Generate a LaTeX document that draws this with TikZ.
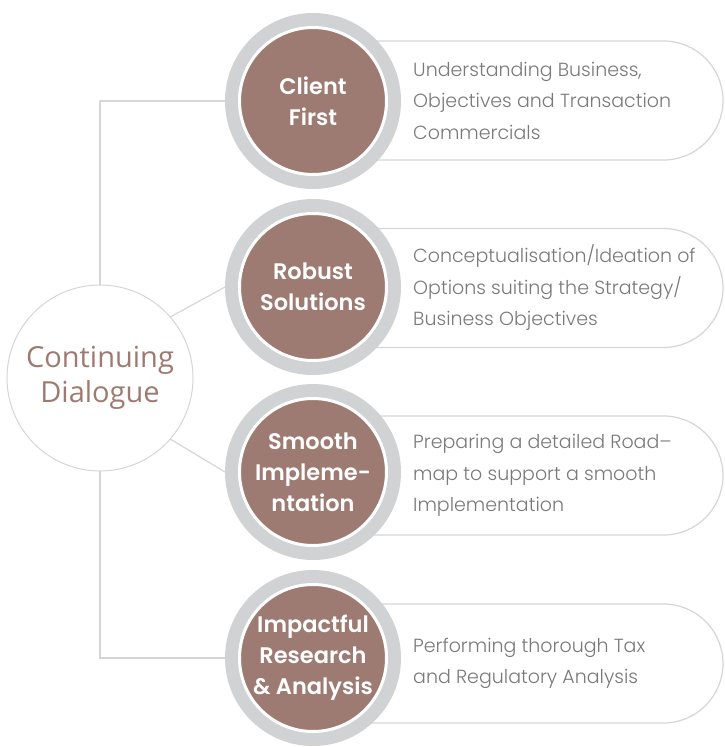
\documentclass[tikz,border=0pt]{standalone}
\usepackage{fontspec}
\setmainfont{Poppins}
\newfontfamily\pillfont{Poppins Light}
\newfontfamily\circfont{Poppins SemiBold}
\newfontfamily\dlgfont{Open Sans}
\definecolor{brownc}{HTML}{9E7B72}
\definecolor{ringgrey}{HTML}{D1D2D4}
\definecolor{linegrey}{HTML}{D6D6D6}
\definecolor{txtgrey}{HTML}{7A7A7A}
\tikzset{
  conn/.style={draw=linegrey, line width=1.2pt},
  ring/.style={circle, fill=ringgrey, minimum size=176pt, inner sep=0pt, outer sep=0pt},
  core/.style={circle, fill=brownc, draw=white, line width=3pt, minimum size=147pt, inner sep=0pt, outer sep=0pt,
    text=white, font=\circfont\fontsize{22.5}{31}\selectfont, align=center},
  pill/.style={rectangle, rounded corners=59.5pt, draw=linegrey, line width=1.2pt, fill=white,
    minimum width=423pt, minimum height=119pt, inner sep=0pt, outer sep=0pt},
  pilltext/.style={anchor=west, text=txtgrey, font=\pillfont\fontsize{19}{31.5}\selectfont, align=left, inner sep=0pt},
  dialogue/.style={circle, draw=linegrey, line width=1pt, fill=white, minimum size=186pt, inner sep=0pt, outer sep=0pt,
    text=brownc, font=\dlgfont\fontsize{29}{35}\selectfont, align=center}
}
\begin{document}
\begin{tikzpicture}[x=1pt, y=-1pt]
\useasboundingbox[fill=white] (0,0) rectangle (725,747);
% central node
\node[dialogue] (cd) at (100,378) {Continuing\\Dialogue};
% ring placeholders (for connector anchors)
\coordinate (r1) at (313,101);
\coordinate (r2) at (313,287);
\coordinate (r3) at (313,472);
\coordinate (r4) at (313,658);
% pills
\node[pill] (p1) at (511.5,100.5) {};
\node[pill] (p2) at (511.5,288) {};
\node[pill] (p3) at (511.5,475.5) {};
\node[pill] (p4) at (511.5,663.5) {};
% rings
\node[ring] (g1) at (r1) {};
\node[ring] (g2) at (r2) {};
\node[ring] (g3) at (r3) {};
\node[ring] (g4) at (r4) {};
% connectors
\draw[conn] (cd.north) |- (g1.west);
\draw[conn] (cd.south) |- (g4.west);
\draw[conn] (cd.41.5) -- (g2.west);
\draw[conn] (cd.-41.5) -- (g3.west);
% cores
\node[core] (c1) at (r1) {Client\\First};
\node[core] (c2) at (r2) {Robust\\Solutions};
\node[core] (c3) at (r3) {Smooth\\Impleme-\\ntation};
\node[core] (c4) at (r4) {Impactful\\Research\\\& Analysis};
% pill texts
\node[pilltext] (t1) at (413,100.5) {Understanding Business,\\Objectives and Transaction\\Commercials};
\node[pilltext] (t2) at (413,288) {Conceptualisation/Ideation of\\Options suiting the Strategy/\\Business Objectives};
\node[pilltext] (t3) at (413,475.5) {Preparing a detailed Road–\\map to support a smooth\\Implementation};
\node[pilltext] (t4) at (413,663.5) {Performing thorough Tax\\and Regulatory Analysis};
\end{tikzpicture}
\end{document}
